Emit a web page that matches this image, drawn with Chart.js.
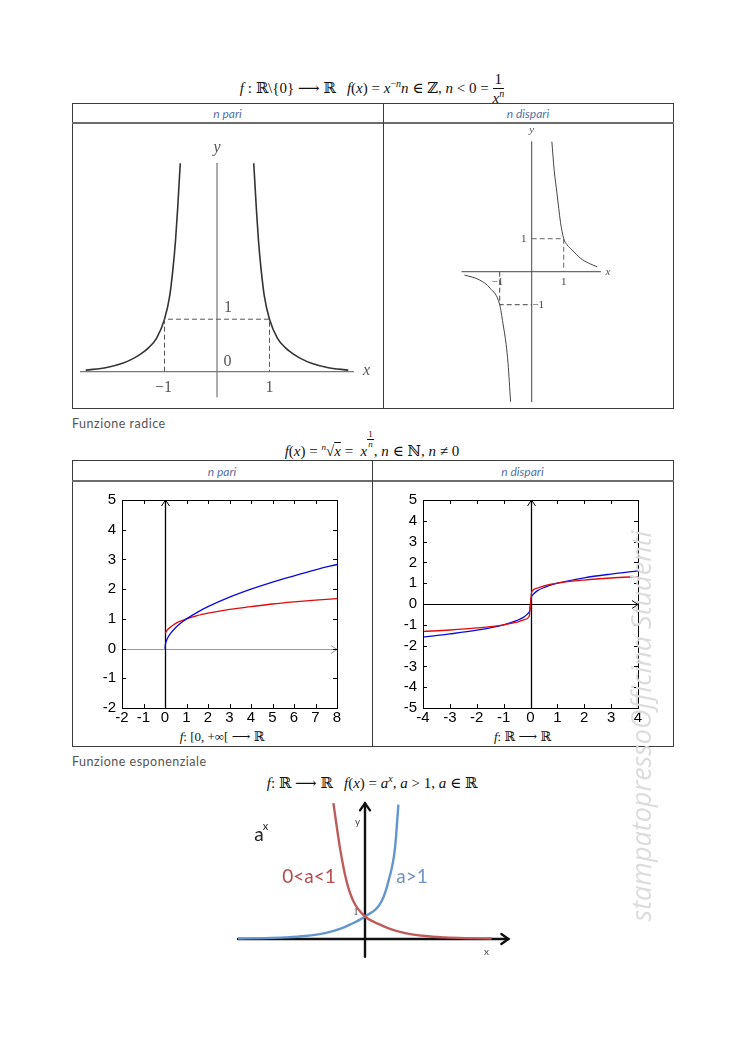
<!DOCTYPE html>
<html lang="it">
<head>
<meta charset="utf-8">
<script src="https://cdn.jsdelivr.net/npm/chart.js@4.4.1/dist/chart.umd.min.js"></script>
<style>
body { margin: 0; background: #fff; }
#pagina { position: relative; width: 744px; height: 1053px; overflow: hidden; font-family: Lato, "Open Sans", sans-serif; }
canvas { position: absolute; }
.formula { position: absolute; left: 0; width: 744px; text-align: center; font-family: "Liberation Serif", "DejaVu Serif", serif; font-size: 15px; color: #111; white-space: nowrap; }
.formula i { font-style: italic; }
.frac { display: inline-block; vertical-align: middle; text-align: center; }
.frac > span { display: block; line-height: 1.05; }
.frac > span:first-child { border-bottom: 1px solid #111; padding: 0 1px; }
.box { position: absolute; border: 1px solid #3c3c3c; box-sizing: border-box; }
.riga { position: absolute; background: #6b6b6b; height: 2px; }
.col { position: absolute; background: #3c3c3c; width: 1px; }
.testa { position: absolute; text-align: center; font-style: italic; color: #5470a8; font-size: 12px; height: 17px; line-height: 17px; }
.titolo { position: absolute; left: 72px; font-size: 12.5px; color: #555; letter-spacing: 0.5px; }
.didascalia { position: absolute; text-align: center; font-family: "Liberation Serif", "DejaVu Serif", serif; font-size: 13px; color: #111; }
#filigrana { position: absolute; left: 436px; top: 709px; width: 410px; height: 34px; line-height: 34px; text-align: center;
  transform: rotate(-90deg); font-family: "Open Sans", sans-serif; font-style: italic; font-size: 27px; color: #dcdcdc; white-space: nowrap; }
</style>
</head>
<body>
<div id="pagina">

  <div class="formula" style="top:72px">
    <i>f</i> : ℝ\{0} ⟶ ℝ &nbsp; <i>f</i>(<i>x</i>) = <i>x</i><sup style="font-size:10px">−<i>n</i></sup><i>n</i> ∈ ℤ, <i>n</i> &lt; 0 =
    <span class="frac"><span>1</span><span><i>x</i><sup style="font-size:10px"><i>n</i></sup></span></span>
  </div>

  <div class="box" style="left:72px; top:103px; width:602px; height:306px"></div>
  <div class="riga" style="left:72px; top:122px; width:602px"></div>
  <div class="col" style="left:383px; top:103px; height:306px"></div>
  <div class="testa" style="left:72px; top:105px; width:311px">n pari</div>
  <div class="testa" style="left:383px; top:105px; width:290px">n dispari</div>

  <div class="titolo" style="top:416px">Funzione radice</div>

  <div class="formula" style="top:430px">
    <i>f</i>(<i>x</i>) = <sup style="font-size:9px"><i>n</i></sup>√<span style="text-decoration:overline"><i>x</i></span> = &nbsp;<i>x</i><span class="frac" style="font-size:9px; vertical-align:9px"><span>1</span><span><i>n</i></span></span>, <i>n</i> ∈ ℕ, <i>n</i> ≠ 0
  </div>

  <div class="box" style="left:72px; top:460px; width:602px; height:287px"></div>
  <div class="riga" style="left:72px; top:480px; width:602px"></div>
  <div class="col" style="left:372px; top:460px; height:287px"></div>
  <div class="testa" style="left:72px; top:463px; width:300px">n pari</div>
  <div class="testa" style="left:372px; top:463px; width:301px">n dispari</div>
  <div class="didascalia" style="left:72px; top:729px; width:300px"><i>f</i>: [0, +∞[ ⟶ ℝ</div>
  <div class="didascalia" style="left:372px; top:729px; width:301px"><i>f</i>: ℝ ⟶ ℝ</div>

  <div class="titolo" style="top:754px">Funzione esponenziale</div>

  <div class="formula" style="top:773px">
    <i>f</i>: ℝ ⟶ ℝ &nbsp; <i>f</i>(<i>x</i>) = <i>a</i><sup style="font-size:10px"><i>x</i></sup>, <i>a</i> &gt; 1, <i>a</i> ∈ ℝ
  </div>

  <canvas id="potPari" width="309" height="283" style="left:73px; top:124px"></canvas>
  <canvas id="potDispari" width="288" height="283" style="left:384px; top:124px"></canvas>
  <canvas id="radPari" width="270" height="245" style="left:88px; top:485px"></canvas>
  <canvas id="radDispari" width="272" height="245" style="left:389px; top:485px"></canvas>
  <canvas id="esponenziale" width="285" height="170" style="left:230px; top:795px"></canvas>

  <div id="filigrana">stampatopressoOfficina Studenti</div>
</div>

<script>
// ---- dati ----

// x^-n, n pari
const pariSinX = [-2.5, -2.1, -1.8, -1.6, -1.45, -1.3, -1.15, -1, -0.9, -0.84, -0.79, -0.75, -0.7];
const pariSinY = [0.03, 0.08, 0.16, 0.25, 0.34, 0.46, 0.64, 1, 1.45, 1.95, 2.5, 3.1, 3.97];
const pariDesX = [0.7, 0.75, 0.79, 0.84, 0.9, 1, 1.15, 1.3, 1.45, 1.6, 1.8, 2.1, 2.5];
const pariDesY = [3.97, 3.1, 2.5, 1.95, 1.45, 1, 0.64, 0.46, 0.34, 0.25, 0.16, 0.08, 0.03];
const pariGuidaX = [-1, -1, 1, 1];
const pariGuidaY = [0, 1, 1, 0];

// x^-n, n dispari
const dispPosX = [0.63, 0.7, 0.79, 0.9, 1, 1.1, 1.26, 1.52, 1.8, 2.05];
const dispPosY = [3.94, 3.1, 2.37, 1.5, 1, 0.82, 0.66, 0.41, 0.25, 0.15];
const dispNegX = [-2.1, -1.63, -1.3, -1, -0.9, -0.8, -0.74, -0.66];
const dispNegY = [-0.1, -0.25, -0.5, -1, -1.56, -2.2, -2.78, -3.94];
const dispGuidaPosX = [0, 1, 1];
const dispGuidaPosY = [1, 1, 0];
const dispGuidaNegX = [-1, -1, 0];
const dispGuidaNegY = [0, -1, -1];

// radice, n pari
const radPariBluX = [0, 0.02, 0.1, 0.25, 0.5, 0.75, 1, 1.5, 2, 3, 4, 5, 6, 7, 8];
const radPariBluY = [0, 0.14, 0.32, 0.5, 0.71, 0.87, 1, 1.22, 1.41, 1.73, 2, 2.24, 2.45, 2.65, 2.83];
const radPariRossoX = [0.01, 0.1, 0.25, 0.5, 0.75, 1, 1.5, 2, 3, 4, 5, 6, 7, 8];
const radPariRossoY = [0.52, 0.62, 0.72, 0.85, 0.93, 1, 1.11, 1.19, 1.32, 1.41, 1.5, 1.57, 1.63, 1.68];
const radPariTickX = [-2, 8];
const radPariTickY = [-2, 5];

// radice, n dispari
const radDispBluX = [-4, -3, -2, -1, -0.5, -0.25, -0.1, -0.02, 0, 0.02, 0.1, 0.25, 0.5, 1, 2, 3, 4];
const radDispBluY = [-1.59, -1.44, -1.26, -1, -0.79, -0.63, -0.46, -0.27, 0, 0.27, 0.46, 0.63, 0.79, 1, 1.26, 1.44, 1.59];
const radDispRossoX = [-4, -3, -2, -1, -0.5, -0.25, -0.05, 0.05, 0.25, 0.5, 1, 2, 3, 4];
const radDispRossoY = [-1.32, -1.25, -1.15, -1, -0.87, -0.76, -0.6, 0.6, 0.76, 0.87, 1, 1.15, 1.25, 1.32];
const radDispTickX = [-4, 4];
const radDispTickY = [-5, 5];

// esponenziale
const espBluX = [-6.35, -5, -4, -3, -2, -1.25, -0.75, 0, 0.83, 1.17, 1.5, 1.67];
const espBluY = [0.02, 0.04, 0.07, 0.13, 0.26, 0.45, 0.64, 1, 1.68, 2.56, 4.04, 5.97];
const espRossoX = [-1.58, -1.25, -0.92, -0.58, 0, 0.75, 1.25, 2, 3, 4, 5, 6.33];
const espRossoY = [6.04, 4.04, 2.56, 1.68, 1, 0.64, 0.45, 0.26, 0.13, 0.07, 0.04, 0.02];

// ---- utilità ----
const punti = (xs, ys) => xs.map((x, i) => ({ x, y: ys[i] }));

function segmento(ctx, x1, y1, x2, y2) {
    ctx.beginPath();
    ctx.moveTo(x1, y1);
    ctx.lineTo(x2, y2);
    ctx.stroke();
}

function freccia(ctx, x, y, dir, lung, larg) {
    ctx.beginPath();
    if (dir === "su") {
        ctx.moveTo(x - larg, y + lung); ctx.lineTo(x, y); ctx.lineTo(x + larg, y + lung);
    } else {
        ctx.moveTo(x - lung, y - larg); ctx.lineTo(x, y); ctx.lineTo(x - lung, y + larg);
    }
    ctx.stroke();
}

function scritte(chart, lista) {
    const { ctx, scales: { x, y } } = chart;
    ctx.save();
    ctx.textAlign = "center";
    ctx.textBaseline = "middle";
    lista.forEach(e => {
        ctx.font = e.font;
        ctx.fillStyle = e.colore;
        ctx.fillText(e.t, x.getPixelForValue(e.x), y.getPixelForValue(e.y));
    });
    ctx.restore();
}

function curva(dati, colore, spessore) {
    return {
        data: dati, borderColor: colore, borderWidth: spessore, showLine: true,
        pointRadius: 0, cubicInterpolationMode: "monotone", fill: false
    };
}

function guida(dati, colore) {
    return {
        data: dati, borderColor: colore, borderWidth: 1, borderDash: [5, 3],
        showLine: true, pointRadius: 0, tension: 0, fill: false
    };
}

function scalaNascosta(min, max) {
    return { type: "linear", min, max, display: false };
}

// assi disegnati a mano (stile libro)
function assiLibro(opz) {
    return {
        id: "assiLibro",
        beforeDatasetsDraw(chart) {
            const { ctx, scales: { x, y } } = chart;
            ctx.save();
            ctx.strokeStyle = opz.colore;
            ctx.fillStyle = opz.colore;
            ctx.lineWidth = opz.spessore;
            ctx.lineCap = "round";
            const x0 = x.getPixelForValue(0), y0 = y.getPixelForValue(0);
            segmento(ctx, x.getPixelForValue(opz.assex[0]), y0, x.getPixelForValue(opz.assex[1]), y0);
            segmento(ctx, x0, y.getPixelForValue(opz.assey[0]), x0, y.getPixelForValue(opz.assey[1]));
            if (opz.frecce) {
                freccia(ctx, x.getPixelForValue(opz.assex[1]), y0, "destra", 7, 5);
                freccia(ctx, x0, y.getPixelForValue(opz.assey[1]), "su", 7, 5);
            }
            ctx.restore();
        },
        afterDatasetsDraw(chart) {
            scritte(chart, opz.scritte);
        }
    };
}

// cornice stile MATLAB con tacche interne e assi con freccia
function cornice(coloreAsseX) {
    return {
        id: "cornice",
        beforeDatasetsDraw(chart) {
            const { ctx, chartArea: a, scales: { x, y } } = chart;
            const x0 = Math.round(x.getPixelForValue(0)) + 0.5;
            const y0 = Math.round(y.getPixelForValue(0)) + 0.5;
            ctx.save();
            ctx.lineWidth = 1;
            ctx.strokeStyle = coloreAsseX;
            segmento(ctx, a.left, y0, a.right, y0);
            freccia(ctx, a.right, y0, "destra", 6, 4);
            ctx.strokeStyle = "#000";
            ctx.lineWidth = 1.3;
            segmento(ctx, x0, a.bottom, x0, a.top);
            ctx.lineWidth = 1;
            freccia(ctx, x0, a.top, "su", 6, 4);
            ctx.restore();
        },
        afterDatasetsDraw(chart) {
            const { ctx, chartArea: a, scales: { x, y } } = chart;
            ctx.save();
            ctx.strokeStyle = "#000";
            ctx.lineWidth = 1;
            ctx.strokeRect(Math.round(a.left) + 0.5, Math.round(a.top) + 0.5,
                Math.round(a.right - a.left), Math.round(a.bottom - a.top));
            const t = 4;
            x.ticks.forEach(tk => {
                const p = Math.round(x.getPixelForValue(tk.value)) + 0.5;
                segmento(ctx, p, a.bottom, p, a.bottom - t);
                segmento(ctx, p, a.top, p, a.top + t);
            });
            y.ticks.forEach(tk => {
                const p = Math.round(y.getPixelForValue(tk.value)) + 0.5;
                segmento(ctx, a.left, p, a.left + t, p);
                segmento(ctx, a.right, p, a.right - t, p);
            });
            ctx.restore();
        }
    };
}

function scalaMatlab(limiti, asse) {
    return {
        type: "linear", min: limiti[0], max: limiti[1],
        ticks: {
            stepSize: 1, autoSkip: false, maxRotation: 0, color: "#000",
            padding: asse === "x" ? 1 : 6,
            font: { family: "Liberation Sans", size: 15 }
        },
        grid: { display: false, drawTicks: false },
        border: { display: false },
        afterFit(s) {
            if (asse === "x") s.height = 22; else s.width = 34;
        }
    };
}

const base = {
    responsive: false,
    animation: false,
    events: [],
    plugins: { legend: { display: false }, tooltip: { enabled: false } }
};

const fontLibro = "16px 'Liberation Serif', serif";
const fontLibroPiccolo = "11px 'Liberation Serif', serif";

// ---- x^-n, n pari ----
new Chart(document.getElementById("potPari"), {
    type: "scatter",
    data: {
        datasets: [
            guida(punti(pariGuidaX, pariGuidaY), "#555"),
            curva(punti(pariSinX, pariSinY), "#333", 1.6),
            curva(punti(pariDesX, pariDesY), "#333", 1.6)
        ]
    },
    options: {
        ...base,
        scales: { x: scalaNascosta(-2.743, 3.143), y: scalaNascosta(-0.672, 4.718) }
    },
    plugins: [assiLibro({
        colore: "#777", spessore: 1.2, frecce: false,
        assex: [-2.6, 2.6], assey: [-0.48, 3.97],
        scritte: [
            { t: "y", x: 0, y: 4.26, font: "italic " + fontLibro, colore: "#555" },
            { t: "x", x: 2.85, y: 0.02, font: "italic " + fontLibro, colore: "#555" },
            { t: "0", x: 0.2, y: 0.19, font: fontLibro, colore: "#555" },
            { t: "1", x: 0.21, y: 1.21, font: fontLibro, colore: "#555" },
            { t: "−1", x: -1.02, y: -0.3, font: fontLibro, colore: "#555" },
            { t: "1", x: 1, y: -0.3, font: fontLibro, colore: "#555" }
        ]
    })]
});

// ---- x^-n, n dispari ----
new Chart(document.getElementById("potDispari"), {
    type: "scatter",
    data: {
        datasets: [
            guida(punti(dispGuidaPosX, dispGuidaPosY), "#666"),
            guida(punti(dispGuidaNegX, dispGuidaNegY), "#444"),
            curva(punti(dispPosX, dispPosY), "#444", 1),
            curva(punti(dispNegX, dispNegY), "#444", 1)
        ]
    },
    options: {
        ...base,
        scales: { x: scalaNascosta(-4.616, 4.384), y: scalaNascosta(-4.1, 4.476) }
    },
    plugins: [assiLibro({
        colore: "#444", spessore: 1, frecce: false,
        assex: [-2.18, 2.15], assey: [-3.94, 3.94],
        scritte: [
            { t: "y", x: 0, y: 4.29, font: "italic " + fontLibroPiccolo, colore: "#555" },
            { t: "x", x: 2.38, y: 0, font: "italic " + fontLibroPiccolo, colore: "#555" },
            { t: "1", x: -0.25, y: 1, font: fontLibroPiccolo, colore: "#444" },
            { t: "1", x: 1, y: -0.31, font: fontLibroPiccolo, colore: "#444" },
            { t: "−1", x: -1.07, y: -0.31, font: fontLibroPiccolo, colore: "#444" },
            { t: "−1", x: 0.2, y: -1.02, font: fontLibroPiccolo, colore: "#444" }
        ]
    })]
});

// ---- radice, n pari ----
new Chart(document.getElementById("radPari"), {
    type: "scatter",
    data: {
        datasets: [
            curva(punti(radPariBluX, radPariBluY), "#0a0adc", 1.3),
            curva(punti(radPariRossoX, radPariRossoY), "#e00b0b", 1.3)
        ]
    },
    options: {
        ...base,
        layout: { padding: { top: 8, right: 21, left: 0, bottom: 0 } },
        scales: { x: scalaMatlab(radPariTickX, "x"), y: scalaMatlab(radPariTickY, "y") }
    },
    plugins: [cornice("#9a9a9a")]
});

// ---- radice, n dispari ----
new Chart(document.getElementById("radDispari"), {
    type: "scatter",
    data: {
        datasets: [
            curva(punti(radDispRossoX, radDispRossoY), "#e00b0b", 1.3),
            curva(punti(radDispBluX, radDispBluY), "#0a0adc", 1.3)
        ]
    },
    options: {
        ...base,
        layout: { padding: { top: 8, right: 23, left: 0, bottom: 0 } },
        scales: { x: scalaMatlab(radDispTickX, "x"), y: scalaMatlab(radDispTickY, "y") }
    },
    plugins: [cornice("#000")]
});

// ---- esponenziale ----
new Chart(document.getElementById("esponenziale"), {
    type: "scatter",
    data: {
        datasets: [
            curva(punti(espRossoX, espRossoY), "#bf5b5b", 2.4),
            curva(punti(espBluX, espBluY), "#6396cc", 2.4)
        ]
    },
    options: {
        ...base,
        scales: { x: scalaNascosta(-6.75, 7.5), y: scalaNascosta(-1.156, 6.4) }
    },
    plugins: [assiLibro({
        colore: "#111", spessore: 2.4, frecce: true,
        assex: [-6.35, 7.17], assey: [-0.79, 6.03],
        scritte: [
            { t: "a", x: -5.3, y: 4.62, font: "19px Lato, sans-serif", colore: "#222" },
            { t: "x", x: -4.97, y: 4.98, font: "11px Lato, sans-serif", colore: "#222" },
            { t: "0<a<1", x: -2.8, y: 2.76, font: "19px Lato, sans-serif", colore: "#b84c4c" },
            { t: "a>1", x: 2.35, y: 2.76, font: "19px Lato, sans-serif", colore: "#7193c0" },
            { t: "y", x: -0.37, y: 5.21, font: "10px Lato, sans-serif", colore: "#444" },
            { t: "1", x: -0.45, y: 1.2, font: "10px 'Liberation Serif', serif", colore: "#444" },
            { t: "x", x: 6.08, y: -0.56, font: "10px Lato, sans-serif", colore: "#444" }
        ]
    })]
});
</script>
</body>
</html>
